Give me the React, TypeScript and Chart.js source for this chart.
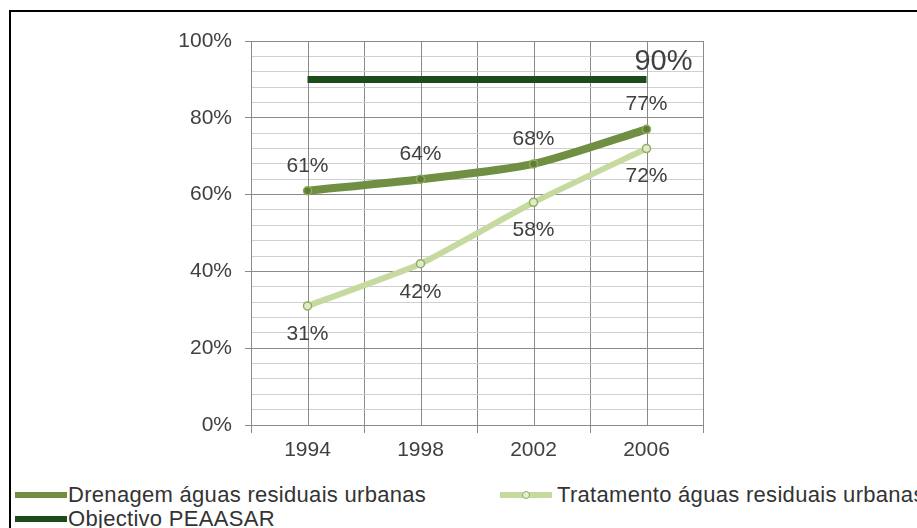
import React, { useEffect, useRef } from "react";
import { Chart, registerables } from "chart.js";

Chart.register(...registerables);

const categories = ["1994", "1998", "2002", "2006"];
const drenagem = [61, 64, 68, 77];
const tratamento = [31, 42, 58, 72];
const objectivo = [90, 90, 90, 90];
const seriesNames = [
  "Drenagem águas residuais urbanas",
  "Tratamento águas residuais urbanas",
  "Objectivo PEAASAR",
];
const yMin = 0;
const yMax = 100;
const yMajorStep = 20;
const yMinorStep = 4;

const FONT = "'Liberation Sans', Arial, sans-serif";
const TEXT = "#404040";
const C_DREN = "#708f42";
const C_TRAT = "#c6daa0";
const C_OBJ = "#1c4c1c";
const GRID_MAJOR = "#8a8a8a";
const GRID_MINOR = "#d0d0d0";

const centerLinesPlugin = {
  id: "centerLines",
  beforeDatasetsDraw(chart: any) {
    const { ctx, chartArea, scales } = chart;
    const xs = scales.x;
    ctx.save();
    ctx.strokeStyle = GRID_MAJOR;
    ctx.lineWidth = 1;
    categories.forEach((_, i) => {
      const x = Math.round(xs.getPixelForValue(i)) + 0.5;
      ctx.beginPath();
      ctx.moveTo(x, chartArea.top);
      ctx.lineTo(x, chartArea.bottom);
      ctx.stroke();
    });
    ctx.restore();
  },
};

const valueLabelsPlugin = {
  id: "valueLabels",
  afterDatasetsDraw(chart: any) {
    const ctx = chart.ctx;
    ctx.save();
    ctx.fillStyle = TEXT;
    ctx.textAlign = "center";
    ctx.textBaseline = "middle";
    chart.data.datasets.forEach((ds: any, di: number) => {
      const meta = chart.getDatasetMeta(di);
      meta.data.forEach((pt: any, i: number) => {
        const v = ds.data[i];
        if (ds.labelMode === "above") {
          ctx.font = `21px ${FONT}`;
          ctx.fillText(v + "%", pt.x, pt.y - 25);
        } else if (ds.labelMode === "below") {
          ctx.font = `21px ${FONT}`;
          ctx.fillText(v + "%", pt.x, pt.y + 28);
        } else if (ds.labelMode === "last" && i === ds.data.length - 1) {
          ctx.font = `29px ${FONT}`;
          ctx.fillText(v + "%", pt.x + 17, pt.y - 17);
        }
      });
    });
    ctx.restore();
  },
};

function ChartView() {
  const ref = useRef<HTMLCanvasElement | null>(null);
  useEffect(() => {
    if (!ref.current) return;
    const chart = new Chart(ref.current, {
      type: "line",
      data: {
        labels: categories,
        datasets: [
          {
            label: seriesNames[2],
            data: objectivo,
            borderColor: C_OBJ,
            borderWidth: 7,
            pointRadius: 0,
            tension: 0,
            labelMode: "last",
          } as any,
          {
            label: seriesNames[0],
            data: drenagem,
            borderColor: C_DREN,
            borderWidth: 8,
            pointRadius: 4,
            pointBackgroundColor: "#5f7d35",
            pointBorderColor: "#8fac5e",
            pointBorderWidth: 1.5,
            tension: 0.25,
            labelMode: "above",
          } as any,
          {
            label: seriesNames[1],
            data: tratamento,
            borderColor: C_TRAT,
            borderWidth: 6,
            pointRadius: 4,
            pointBackgroundColor: "#dfeccb",
            pointBorderColor: "#93ad62",
            pointBorderWidth: 1.5,
            tension: 0.15,
            labelMode: "below",
          } as any,
        ],
      },
      options: {
        responsive: false,
        animation: false,
        layout: { padding: { left: 0, top: 41, right: 214, bottom: 0 } },
        plugins: {
          legend: { display: false },
          tooltip: { enabled: false },
          title: { display: false },
        },
        scales: {
          x: {
            type: "category",
            offset: true,
            grid: {
              offset: true,
              color: GRID_MAJOR,
              tickColor: GRID_MAJOR,
              tickLength: 8,
              lineWidth: 1,
            },
            border: { color: GRID_MAJOR },
            ticks: {
              color: TEXT,
              font: { family: FONT, size: 21 },
              padding: 5,
              maxRotation: 0,
            },
            afterFit: (s: any) => {
              s.height = 45;
            },
          },
          y: {
            min: yMin,
            max: yMax,
            grid: {
              color: (c: any) =>
                c.tick && c.tick.value % yMajorStep === 0 ? GRID_MAJOR : GRID_MINOR,
              tickColor: (c: any) =>
                c.tick && c.tick.value % yMajorStep === 0 ? GRID_MAJOR : "rgba(0,0,0,0)",
              tickLength: 6,
              lineWidth: 1,
            },
            border: { color: GRID_MAJOR },
            ticks: {
              stepSize: yMinorStep,
              autoSkip: false,
              maxTicksLimit: 40,
              color: TEXT,
              font: { family: FONT, size: 21 },
              padding: 13,
              callback: (v: any) => (Number(v) % yMajorStep === 0 ? v + "%" : ""),
            },
            afterFit: (s: any) => {
              s.width = 251;
            },
          },
        },
      } as any,
      plugins: [centerLinesPlugin, valueLabelsPlugin],
    });
    return () => chart.destroy();
  }, []);
  return (
    <canvas
      ref={ref}
      width={917}
      height={470}
      style={{ position: "absolute", left: 0, top: 0, width: 917, height: 470 }}
    />
  );
}

const legendText: React.CSSProperties = {
  position: "absolute",
  fontFamily: FONT,
  fontSize: 22,
  lineHeight: "24px",
  color: "#333",
  whiteSpace: "nowrap",
  letterSpacing: "0.3px",
};

function Swatch({ left, cy, color, h, marker }: any) {
  return (
    <div style={{ position: "absolute", left, top: cy - h / 2, width: 52, height: h, background: color }}>
      {marker && (
        <div
          style={{
            position: "absolute",
            left: 26 - 4,
            top: h / 2 - 4,
            width: 6,
            height: 6,
            borderRadius: "50%",
            border: `1px solid ${marker}`,
            background: "#e4efd2",
          }}
        />
      )}
    </div>
  );
}

export default function App() {
  return (
    <div
      style={{
        position: "fixed",
        left: 0,
        top: 0,
        width: 917,
        height: 528,
        overflow: "hidden",
        background: "#fff",
      }}
    >
      <div
        style={{
          position: "absolute",
          left: 9,
          top: 10,
          width: 1000,
          height: 600,
          borderTop: "2px solid #000",
          borderLeft: "2px solid #000",
        }}
      />
      <ChartView />
      <Swatch left={15} cy={495} color={C_DREN} h={6} />
      <div style={{ ...legendText, left: 68, top: 483 }}>{seriesNames[0]}</div>
      <Swatch left={500} cy={495} color={C_TRAT} h={6} marker="#93ad62" />
      <div style={{ ...legendText, left: 557, top: 483 }}>{seriesNames[1]}</div>
      <Swatch left={15} cy={519} color={C_OBJ} h={6} />
      <div style={{ ...legendText, left: 68, top: 507 }}>{seriesNames[2]}</div>
    </div>
  );
}
